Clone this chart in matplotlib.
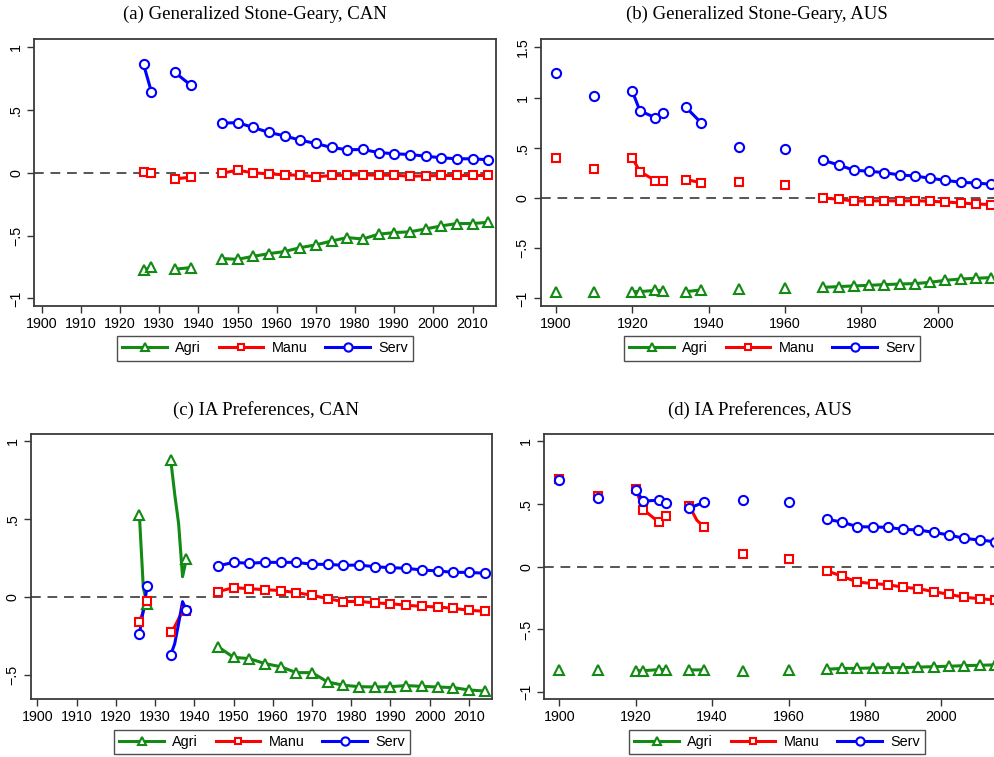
import numpy as np
import matplotlib
matplotlib.use("Agg")
import matplotlib.pyplot as plt
from matplotlib.lines import Line2D

# ---------------- data ----------------
series_names = ["Agri", "Manu", "Serv"]

# Panel (a) Generalized Stone-Geary, CAN
yrs_a = [1926, 1928, None, 1934, 1938, None, 1946, 1950, 1954, 1958, 1962, 1966, 1970, 1974,
         1978, 1982, 1986, 1990, 1994, 1998, 2002, 2006, 2010, 2014]
agri_a = [-0.776, -0.750, None, -0.768, -0.755, None, -0.683, -0.689, -0.665, -0.644, -0.627,
          -0.596, -0.574, -0.543, -0.516, -0.527, -0.489, -0.476, -0.470, -0.447, -0.423,
          -0.404, -0.404, -0.394]
manu_a = [0.008, -0.003, None, -0.048, -0.035, None, -0.003, 0.021, 0.000, -0.008, -0.016,
          -0.019, -0.032, -0.021, -0.019, -0.016, -0.019, -0.019, -0.027, -0.024, -0.021,
          -0.021, -0.021, -0.021]
serv_a = [0.864, 0.646, None, 0.800, 0.700, None, 0.396, 0.400, 0.362, 0.322, 0.295, 0.260,
          0.234, 0.202, 0.184, 0.186, 0.162, 0.152, 0.146, 0.133, 0.120, 0.112, 0.112, 0.104]

# Panel (b) Generalized Stone-Geary, AUS
yrs_b = [1900, None, 1910, None, 1920, 1922, 1926, 1928, None, 1934, 1938, None, 1948, None,
         1960, None, 1970, 1974, 1978, 1982, 1986, 1990, 1994, 1998, 2002, 2006, 2010, 2014]
agri_b = [-0.933, None, -0.933, None, -0.933, -0.933, -0.920, -0.923, None, -0.933, -0.916,
          None, -0.906, None, -0.896, None, -0.890, -0.883, -0.876, -0.870, -0.863, -0.857,
          -0.853, -0.840, -0.820, -0.807, -0.800, -0.793]
manu_b = [0.398, None, 0.292, None, 0.398, 0.262, 0.173, 0.166, None, 0.183, 0.153, None,
          0.159, None, 0.129, None, 0.000, -0.013, -0.030, -0.030, -0.027, -0.030, -0.027,
          -0.033, -0.040, -0.050, -0.060, -0.066]
serv_b = [1.245, None, 1.019, None, 1.062, 0.867, 0.800, 0.850, None, 0.903, 0.750, None,
          0.508, None, 0.485, None, 0.375, 0.329, 0.276, 0.266, 0.252, 0.229, 0.219, 0.196,
          0.176, 0.156, 0.149, 0.136]

# Panel (c) IA Preferences, CAN
yrs_c_agri = [1926, 1927, 1928, None, 1934, 1935, 1936, 1937, 1938, None, 1946, 1950, 1954,
              1958, 1962, 1966, 1970, 1974, 1978, 1982, 1986, 1990, 1994, 1998, 2002, 2006,
              2010, 2014]
agri_c = [0.526, 0.060, -0.047, None, 0.878, 0.660, 0.470, 0.130, 0.245, None, -0.318, -0.387,
          -0.395, -0.427, -0.447, -0.485, -0.485, -0.545, -0.566, -0.575, -0.577, -0.575,
          -0.568, -0.573, -0.577, -0.581, -0.596, -0.603]
yrs_c = [1926, 1928, None, 1934, 1935, 1936, 1937, 1938, None, 1946, 1950, 1954, 1958, 1962,
         1966, 1970, 1974, 1978, 1982, 1986, 1990, 1994, 1998, 2002, 2006, 2010, 2014]
manu_c = [-0.160, -0.024, None, -0.226, -0.190, -0.140, -0.090, -0.090, None, 0.034, 0.060,
          0.053, 0.047, 0.041, 0.028, 0.011, -0.011, -0.030, -0.028, -0.038, -0.043, -0.053,
          -0.060, -0.064, -0.073, -0.085, -0.092]
serv_c = [-0.239, 0.070, None, -0.370, -0.300, -0.170, -0.030, -0.085, None, 0.199, 0.222,
          0.216, 0.222, 0.222, 0.222, 0.210, 0.209, 0.203, 0.205, 0.194, 0.188, 0.184, 0.173,
          0.167, 0.158, 0.158, 0.152]

# Panel (d) IA Preferences, AUS
yrs_d = [1900, None, 1910, None, 1920, 1922, 1926, 1928, None, 1934, 1936, 1938, None, 1948,
         None, 1960, None, 1970, 1974, 1978, 1982, 1986, 1990, 1994, 1998, 2002, 2006, 2010,
         2014]
agri_d = [-0.822, None, -0.822, None, -0.828, -0.828, -0.820, -0.820, None, -0.822, -0.822,
          -0.822, None, -0.828, None, -0.820, None, -0.817, -0.810, -0.810, -0.806, -0.804,
          -0.804, -0.800, -0.796, -0.793, -0.788, -0.785, -0.782]
manu_d = [0.700, None, 0.560, None, 0.618, 0.454, 0.355, 0.406, None, 0.483, 0.370, 0.313,
          None, 0.098, None, 0.058, None, -0.032, -0.077, -0.122, -0.135, -0.143, -0.164,
          -0.175, -0.199, -0.220, -0.244, -0.255, -0.265]
serv_d = [0.690, None, 0.549, None, 0.610, 0.523, 0.528, 0.504, None, 0.467, 0.490, 0.512,
          None, 0.528, None, 0.515, None, 0.377, 0.355, 0.318, 0.316, 0.313, 0.297, 0.292,
          0.273, 0.252, 0.225, 0.212, 0.199]

# years that carry a marker (intermediate annual points are drawn as line only)
marker_years_can = [1926, 1928, 1934, 1938] + list(range(1946, 2015, 4))
marker_years_aus = [1900, 1910, 1920, 1922, 1926, 1928, 1934, 1938, 1948, 1960] + list(range(1970, 2015, 4))

titles = ["(a) Generalized Stone-Geary, CAN", "(b) Generalized Stone-Geary, AUS",
          "(c) IA Preferences, CAN", "(d) IA Preferences, AUS"]

can_xticks = list(range(1900, 2011, 10))
aus_xticks = list(range(1900, 2001, 20))

# ---------------- style ----------------
colors = {"Agri": "#138a13", "Manu": "#ff0000", "Serv": "#0000ff"}
markers = {"Agri": "^", "Manu": "s", "Serv": "o"}
msizes = {"Agri": 7.0, "Manu": 5.2, "Serv": 6.6}

plt.rcParams["font.family"] = ["Liberation Sans", "DejaVu Sans"]

fig = plt.figure(figsize=(9.95, 7.57), dpi=100)
W, H = 995.0, 757.0


def make_ax(x0, x1, ytop, ybot):
    return fig.add_axes([x0 / W, 1 - ybot / H, (x1 - x0) / W, (ybot - ytop) / H])


def arr(v):
    return np.array([np.nan if a is None else a for a in v], dtype=float)


def draw_series(ax, yrs, vals, name, myears):
    x = arr(yrs)
    y = arr(vals)
    c = colors[name]
    ax.plot(x, y, color=c, lw=2.2, solid_capstyle="butt", zorder=3)
    mask = np.isin(x, myears)
    ax.plot(x[mask], y[mask], ls="none", marker=markers[name], ms=msizes[name],
            mfc="white", mec=c, mew=1.5, zorder=4)


def style_ax(ax, xlim, ylim, xticks, yticks, ylabels):
    ax.set_xlim(*xlim)
    ax.set_ylim(*ylim)
    ax.axhline(0, color="#555555", lw=1.4, ls=(0, (5, 3.5)), zorder=2)
    ax.set_xticks(xticks)
    ax.set_xticklabels([str(t) for t in xticks], fontsize=10.3)
    ax.set_yticks(yticks)
    ax.set_yticklabels(ylabels, fontsize=10.3, rotation=90, va="center")
    ax.tick_params(direction="out", length=5, width=1, color="#333333", pad=3)
    for s in ax.spines.values():
        s.set_color("#3a3a3a")
        s.set_linewidth(1.3)


def legend(ax, cx, cy):
    handles = [Line2D([], [], color=colors[n], lw=2.2, marker=markers[n], ms=msizes[n] * 0.9,
                      mfc="white", mec=colors[n], mew=1.5) for n in series_names]
    leg = fig.legend(handles, series_names, loc="center", bbox_to_anchor=(cx / W, 1 - cy / H),
                     ncol=3, fontsize=10.4, frameon=True, fancybox=False, edgecolor="#222222",
                     handlelength=3.1, handletextpad=0.55, columnspacing=1.25, numpoints=1,
                     borderpad=0.35, borderaxespad=0.0)
    leg.get_frame().set_linewidth(1.0)


# panel a
ax_a = make_ax(34.3, 496.0, 39.3, 306.0)
draw_series(ax_a, yrs_a, agri_a, "Agri", marker_years_can)
draw_series(ax_a, yrs_a, manu_a, "Manu", marker_years_can)
draw_series(ax_a, yrs_a, serv_a, "Serv", marker_years_can)
style_ax(ax_a, (1898.1, 2016.0), (-1.061, 1.064), can_xticks, [-1, -0.5, 0, 0.5, 1],
         ["\u22121", "\u2212.5", "0", ".5", "1"])

# panel b
ax_b = make_ax(540.7, 1010.0, 39.3, 306.0)
draw_series(ax_b, yrs_b, agri_b, "Agri", marker_years_aus)
draw_series(ax_b, yrs_b, manu_b, "Manu", marker_years_aus)
draw_series(ax_b, yrs_b, serv_b, "Serv", marker_years_aus)
style_ax(ax_b, (1896.0, 2018.9), (-1.076, 1.58), aus_xticks, [-1, -0.5, 0, 0.5, 1, 1.5],
         ["\u22121", "\u2212.5", "0", ".5", "1", "1.5"])

# panel c
ax_c = make_ax(30.7, 492.3, 434.0, 699.3)
draw_series(ax_c, yrs_c_agri, agri_c, "Agri", marker_years_can)
draw_series(ax_c, yrs_c, manu_c, "Manu", marker_years_can)
draw_series(ax_c, yrs_c, serv_c, "Serv", marker_years_can)
style_ax(ax_c, (1898.3, 2015.95), (-0.656, 1.045), can_xticks, [-0.5, 0, 0.5, 1],
         ["\u2212.5", "0", ".5", "1"])

# panel d
ax_d = make_ax(544.3, 1012.0, 434.0, 699.3)
draw_series(ax_d, yrs_d, agri_d, "Agri", marker_years_aus)
draw_series(ax_d, yrs_d, manu_d, "Manu", marker_years_aus)
draw_series(ax_d, yrs_d, serv_d, "Serv", marker_years_aus)
style_ax(ax_d, (1896.07, 2018.5), (-1.056, 1.056), aus_xticks, [-1, -0.5, 0, 0.5, 1],
         ["\u22121", "\u2212.5", "0", ".5", "1"])

# titles
for (cx, cy), t in zip([(255, 14), (757, 14), (266, 410), (760, 410)], titles):
    fig.text(cx / W, 1 - cy / H, t, ha="center", va="center", fontsize=13.5,
             family=["Liberation Serif", "DejaVu Serif"])

legend(ax_a, 265, 348.5)
legend(ax_b, 772, 348.5)
legend(ax_c, 262, 742)
legend(ax_d, 777, 742)

fig.savefig("out.png", dpi=100, facecolor="white")
